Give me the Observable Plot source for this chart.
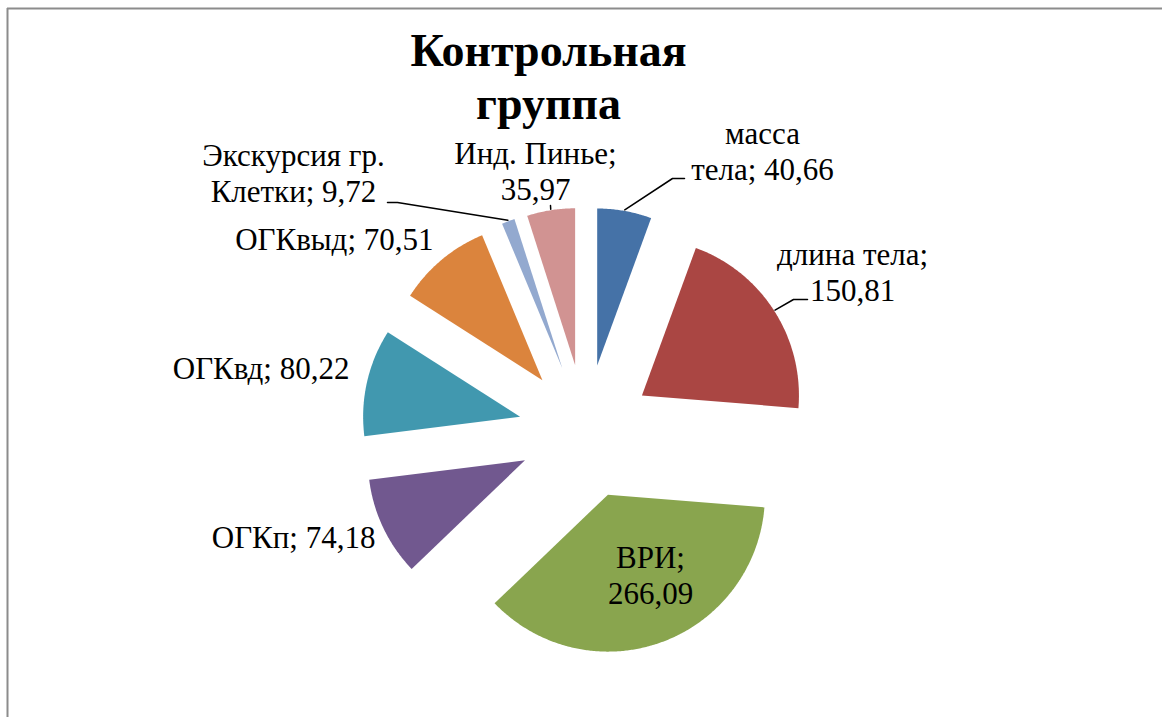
<!DOCTYPE html>
<html>
<head>
<meta charset="utf-8">
<script src="https://cdn.jsdelivr.net/npm/d3@7"></script>
<script src="https://cdn.jsdelivr.net/npm/@observablehq/plot@0.6"></script>
<style>
  html, body { margin: 0; padding: 0; background: #fff; overflow: hidden; }
  #chart svg { display: block; }
</style>
</head>
<body>
<div id="chart"></div>
<script>
// ---- data ----
const titleLines = ["Контрольная", "группа"];
const names = ["масса тела", "длина тела", "ВРИ", "ОГКп", "ОГКвд", "ОГКвыд", "Экскурсия гр. Клетки", "Инд. Пинье"];
const values = [40.66, 150.81, 266.09, 74.18, 80.22, 70.51, 9.72, 35.97];
const colors = ["#4572A7", "#AA4643", "#89A54E", "#71588F", "#4198AF", "#DB843D", "#93A9CF", "#D19392"];

// ---- layout (pixels) ----
const W = 1162, H = 717;
const cx = 585, cy = 431, R = 157, explode = 67;
const lineGap = 36;
// label placement: first-line baseline, anchor, number of words on first line
const labelLayout = [
  {x: 762, y: 143, anchor: "middle", brk: 1},
  {x: 852, y: 264, anchor: "middle", brk: 2},
  {x: 650, y: 567, anchor: "middle", brk: 1},
  {x: 375, y: 547, anchor: "end", brk: 0},
  {x: 349, y: 378, anchor: "end", brk: 0},
  {x: 433, y: 249, anchor: "end", brk: 0},
  {x: 293, y: 165, anchor: "middle", brk: 2},
  {x: 535, y: 163, anchor: "middle", brk: 2}
];
// leader line elbows (null = no leader)
const leaderLayout = [
  [[672, 178], [684, 178]],
  [[793, 299], [807, 299]],
  null, null, null, null,
  [[397, 202], [387, 202]],
  [[550, 205]]
];

const fmt = v => v.toFixed(2).replace(".", ",");
const arcs = d3.pie().sort(null).value(d => d)(values);

// slice polygons
const slicePts = [];
arcs.forEach((a, i) => {
  const mid = (a.startAngle + a.endAngle) / 2;
  const ax = cx + explode * Math.sin(mid), ay = cy - explode * Math.cos(mid);
  slicePts.push({name: names[i], x: ax, y: ay});
  const n = Math.max(4, Math.ceil((a.endAngle - a.startAngle) / (Math.PI / 360)));
  for (let k = 0; k <= n; k++) {
    const t = a.startAngle + (a.endAngle - a.startAngle) * k / n;
    slicePts.push({name: names[i], x: ax + R * Math.sin(t), y: ay - R * Math.cos(t)});
  }
});

// labels
const labelRows = [];
names.forEach((nm, i) => {
  const words = (nm + "; " + fmt(values[i])).split(" ");
  const L = labelLayout[i];
  const lines = L.brk > 0 ? [words.slice(0, L.brk).join(" "), words.slice(L.brk).join(" ")] : [words.join(" ")];
  lines.forEach((t, j) => labelRows.push({t, x: L.x, y: L.y + j * lineGap, anchor: L.anchor}));
});

// leaders
const leaderPts = [];
arcs.forEach((a, i) => {
  const lay = leaderLayout[i];
  if (!lay) return;
  const mid = (a.startAngle + a.endAngle) / 2;
  const ax = cx + explode * Math.sin(mid), ay = cy - explode * Math.cos(mid);
  leaderPts.push({id: i, x: ax + (R + 1) * Math.sin(mid), y: ay - (R + 1) * Math.cos(mid)});
  lay.forEach(p => leaderPts.push({id: i, x: p[0], y: p[1]}));
});

const titleRows = titleLines.map((t, j) => ({t, x: 548, y: 65 + j * 53}));

const serifFont = "Times New Roman, Liberation Serif, Tinos, serif";

const chart = Plot.plot({
  width: W, height: H, margin: 0,
  x: {domain: [0, W], range: [0, W], axis: null},
  y: {domain: [0, H], range: [0, H], axis: null},
  color: {domain: names, range: colors},
  style: {background: "#fff", fontFamily: serifFont},
  marks: [
    Plot.ruleX([7], {y1: 8, y2: H + 5, stroke: "#8c8c8c", strokeWidth: 2}),
    Plot.ruleY([8], {x1: 7, x2: W + 5, stroke: "#8c8c8c", strokeWidth: 2}),
    Plot.line(slicePts, {x: "x", y: "y", z: "name", fill: "name", stroke: null, curve: "linear-closed"}),
    Plot.line(leaderPts, {x: "x", y: "y", z: "id", stroke: "#000", strokeWidth: 1.5}),
    Plot.text(labelRows.filter(d => d.anchor === "middle"), {x: "x", y: "y", text: "t", textAnchor: "middle", lineAnchor: "bottom", fontSize: 31, fontFamily: serifFont, fill: "#000"}),
    Plot.text(labelRows.filter(d => d.anchor === "end"), {x: "x", y: "y", text: "t", textAnchor: "end", lineAnchor: "bottom", fontSize: 31, fontFamily: serifFont, fill: "#000"}),
    Plot.text(titleRows, {x: "x", y: "y", text: "t", textAnchor: "middle", lineAnchor: "bottom", fontSize: 46, fontWeight: "bold", fontFamily: serifFont, fill: "#000"})
  ]
});
document.getElementById("chart").appendChild(chart);
</script>
</body>
</html>
